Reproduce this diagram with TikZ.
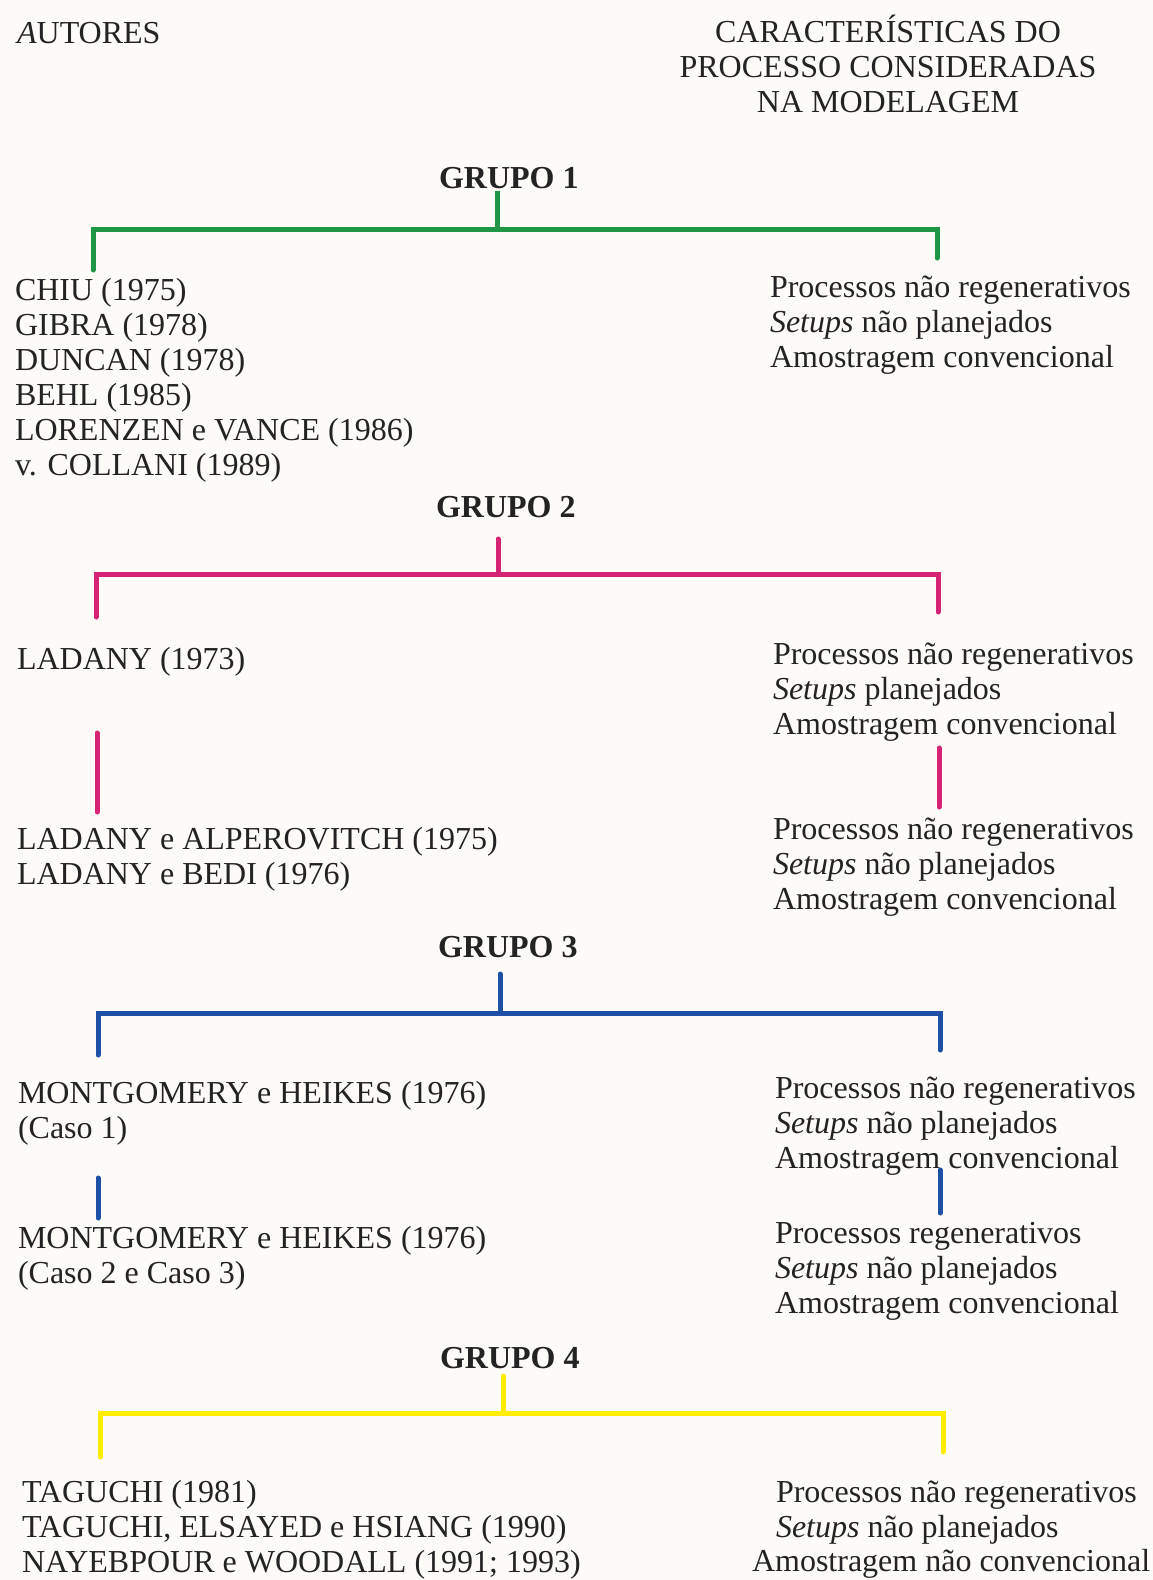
\documentclass[tikz,border=0pt]{standalone}
\usepackage{fontspec}
\setmainfont{Liberation Serif}
\definecolor{paper}{RGB}{252,251,248}
\definecolor{ink}{RGB}{35,35,35}
\definecolor{cgreen}{RGB}{30,150,70}
\definecolor{cpink}{RGB}{215,35,115}
\definecolor{cblue}{RGB}{30,80,165}
\definecolor{cyellow}{RGB}{255,238,0}
\lineskiplimit=-100pt
\begin{document}
% multi-line nodes: anchor=base west sits on the LAST line's baseline
\begin{tikzpicture}[x=1pt,y=-1pt,
  txt/.style={inner sep=0pt, outer sep=0pt, align=left, anchor=base west,
    font={\fontsize{32}{35}\selectfont}, text=ink},
  grp/.style={inner sep=0pt, outer sep=0pt, anchor=base west,
    font={\fontsize{32}{35}\selectfont\bfseries}, text=ink},
  bracket/.style={line width=5pt, line cap=round, line join=miter}]

\fill[paper] (0,0) rectangle (1153,1580);
\useasboundingbox (0,0) rectangle (1153,1580);

% headers
\node[txt] (autores) at (17,43) {\textit{A}UTORES};
\node[txt, align=center, anchor=base] (carac) at (888,112)
  {CARACTERÍSTICAS DO\\PROCESSO CONSIDERADAS\\NA MODELAGEM};

% ---------------- GRUPO 1
\node[grp] (g1) at (439,188) {GRUPO 1};
\node[txt] (g1a) at (15,475) {CHIU (1975)\\GIBRA (1978)\\DUNCAN (1978)\\BEHL (1985)\\LORENZEN e VANCE (1986)\\v. COLLANI (1989)};
\node[txt] (g1b) at (770,367) {Processos não regenerativos\\\textit{Setups} não planejados\\Amostragem convencional};
\coordinate (g1top) at (497,191);
\coordinate (g1mid) at (497,229);
\coordinate (g1L) at (93,270);
\coordinate (g1R) at (937,258);
\draw[bracket, cgreen] (g1L) |- (g1mid) -| (g1R);
\draw[bracket, cgreen, line cap=butt] (g1top) -- (g1mid);

% ---------------- GRUPO 2
\node[grp] (g2) at (436,517) {GRUPO 2};
\node[txt] (g2a) at (17,669) {LADANY (1973)};
\node[txt] (g2b) at (773,734) {Processos não regenerativos\\\textit{Setups} planejados\\Amostragem convencional};
\node[txt] (g2c) at (17,884) {LADANY e ALPEROVITCH (1975)\\LADANY e BEDI (1976)};
\node[txt] (g2d) at (773,909) {Processos não regenerativos\\\textit{Setups} não planejados\\Amostragem convencional};
\coordinate (g2top) at (498,539);
\coordinate (g2mid) at (498,574);
\coordinate (g2L) at (96,617);
\coordinate (g2R) at (938,612);
\draw[bracket, cpink] (g2L) |- (g2mid) -| (g2R);
\draw[bracket, cpink] (g2top) -- (g2mid);
\coordinate (g2s1) at (97,733);
\coordinate (g2e1) at (97,812);
\coordinate (g2s2) at (939,748);
\coordinate (g2e2) at (939,807);
\draw[bracket, cpink] (g2s1) -- (g2e1);
\draw[bracket, cpink] (g2s2) -- (g2e2);

% ---------------- GRUPO 3
\node[grp] (g3) at (438,957) {GRUPO 3};
\node[txt] (g3a) at (18,1138) {MONTGOMERY e HEIKES (1976)\\(Caso 1)};
\node[txt] (g3b) at (775,1168) {Processos não regenerativos\\\textit{Setups} não planejados\\Amostragem convencional};
\node[txt] (g3c) at (18,1283) {MONTGOMERY e HEIKES (1976)\\(Caso 2 e Caso 3)};
\node[txt] (g3d) at (775,1313) {Processos regenerativos\\\textit{Setups} não planejados\\Amostragem convencional};
\coordinate (g3top) at (500,974);
\coordinate (g3mid) at (500,1013);
\coordinate (g3L) at (98,1055);
\coordinate (g3R) at (940,1050);
\draw[bracket, cblue] (g3L) |- (g3mid) -| (g3R);
\draw[bracket, cblue] (g3top) -- (g3mid);
\coordinate (g3s1) at (98,1178);
\coordinate (g3e1) at (98,1218);
\coordinate (g3s2) at (940,1170);
\coordinate (g3e2) at (940,1213);
\draw[bracket, cblue] (g3s1) -- (g3e1);
\draw[bracket, cblue] (g3s2) -- (g3e2);

% ---------------- GRUPO 4
\node[grp] (g4) at (440,1368) {GRUPO 4};
\node[txt] (g4a) at (22,1572) {TAGUCHI (1981)\\TAGUCHI, ELSAYED e HSIANG (1990)\\NAYEBPOUR e WOODALL (1991; 1993)};
\node[txt] (g4b) at (776,1537) {Processos não regenerativos\\\textit{Setups} não planejados};
\node[txt] (g4c) at (752,1571) {Amostragem não convencional};
\coordinate (g4top) at (503,1376);
\coordinate (g4mid) at (503,1413);
\coordinate (g4L) at (100,1457);
\coordinate (g4R) at (943,1452);
\draw[bracket, cyellow] (g4L) |- (g4mid) -| (g4R);
\draw[bracket, cyellow] (g4top) -- (g4mid);
\end{tikzpicture}
\end{document}
